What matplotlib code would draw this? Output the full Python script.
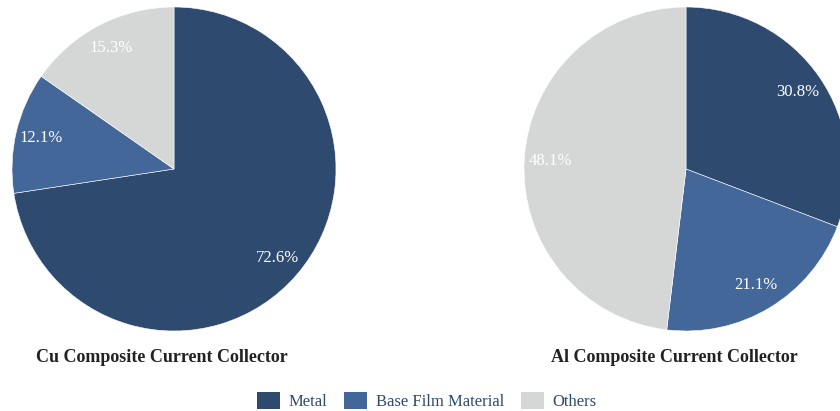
import matplotlib.pyplot as plt
from matplotlib.patches import Patch

plt.rcParams['font.family'] = ['Liberation Serif', 'DejaVu Serif']

categories = ['Metal', 'Base Film Material', 'Others']
cu_shares = [72.6, 12.1, 15.3]
al_shares = [30.8, 21.1, 48.1]
titles = ['Cu Composite Current Collector', 'Al Composite Current Collector']
colors = ['#2e4a6e', '#44679a', '#d5d7d7']

fig = plt.figure(figsize=(8.4, 4.11), dpi=100)

boxes = [[12/840, 80/411, 324/840, 324/411],
         [524/840, 80/411, 324/840, 324/411]]

for box, shares, title in zip(boxes, [cu_shares, al_shares], titles):
    ax = fig.add_axes(box)
    wedges, texts, autotexts = ax.pie(
        shares, colors=colors, startangle=90, counterclock=False,
        autopct='%.1f%%', pctdistance=0.84, radius=1,
        wedgeprops=dict(edgecolor='white', linewidth=0.4))
    for t in autotexts:
        t.set_color('white')
        t.set_fontsize(12)
    ax.set_xlim(-1, 1)
    ax.set_ylim(-1, 1)
    ax.set_aspect('equal')
    ax.axis('off')
    # title below the pie, a bit left of the pie centre
    fig.text(box[0] + box[2] / 2 - 12/840, 1 - 357/411, title, ha='center', va='center',
             fontsize=13, fontweight='bold', color='#222222')

handles = [Patch(facecolor=c, edgecolor='none') for c in colors]
leg = fig.legend(handles, categories, loc='center', bbox_to_anchor=(0.508, 1 - 401/411),
                 ncol=3, frameon=False, fontsize=12, handlelength=1.4, handleheight=1.2,
                 columnspacing=1.0, handletextpad=0.5)
for t in leg.get_texts():
    t.set_color('#2e4a6e')

fig.savefig('out.png', dpi=100)
